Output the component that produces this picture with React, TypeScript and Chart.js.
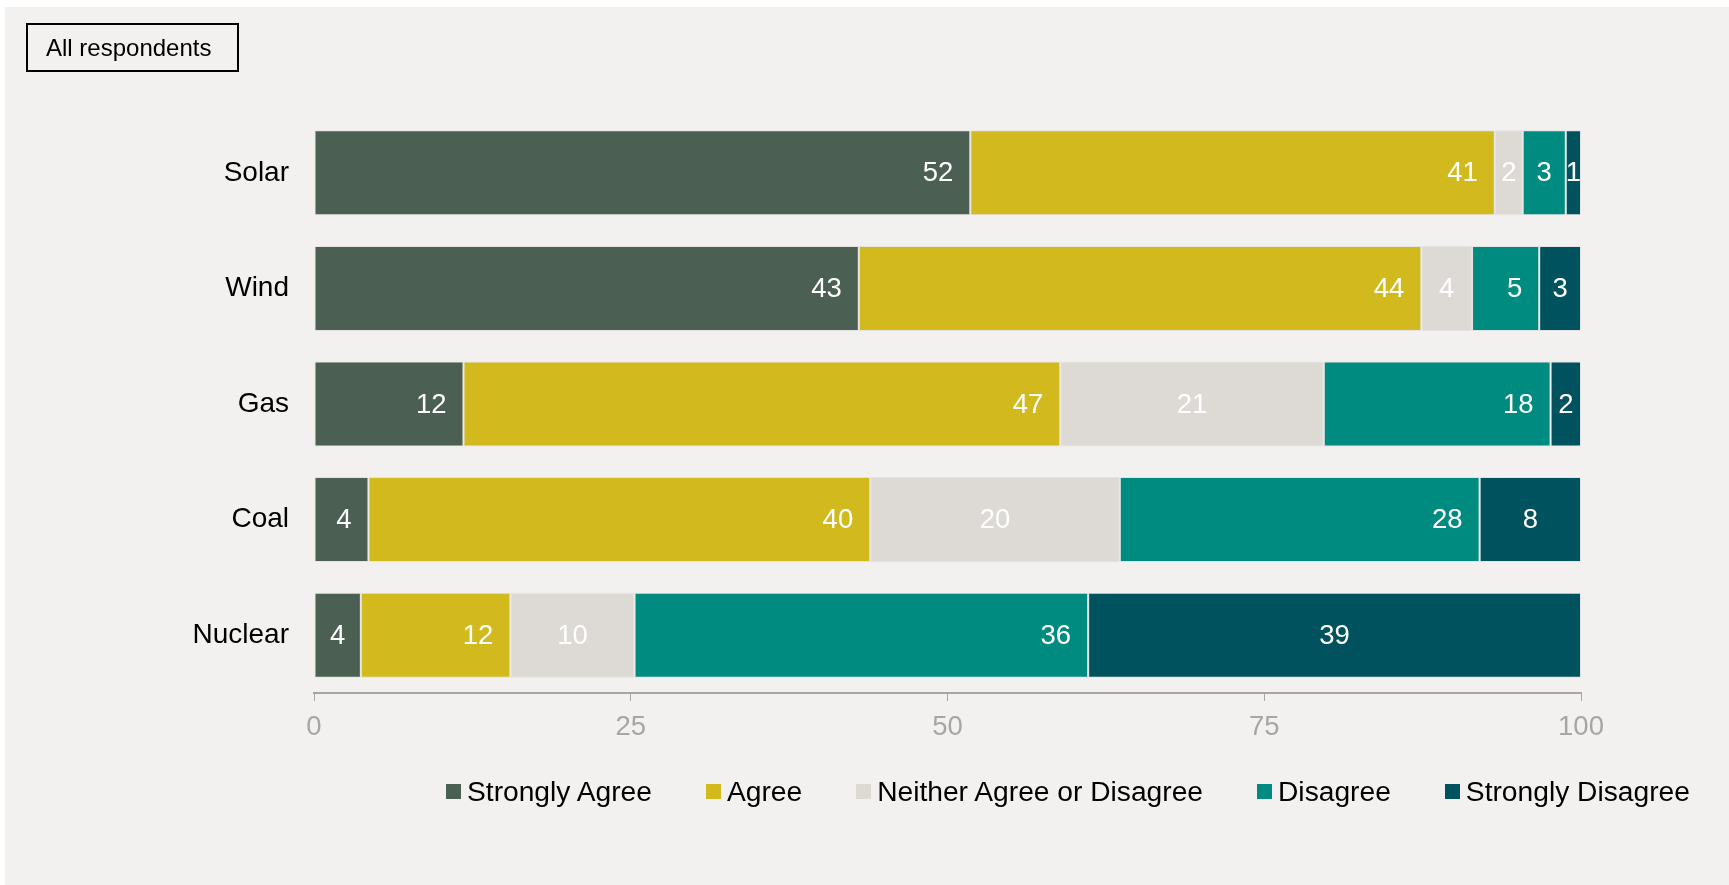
import React, { useEffect, useRef } from "react";
import { Chart, registerables } from "chart.js";

Chart.register(...registerables);

const categories = ["Solar", "Wind", "Gas", "Coal", "Nuclear"];
const seriesNames = [
  "Strongly Agree",
  "Agree",
  "Neither Agree or Disagree",
  "Disagree",
  "Strongly Disagree",
];
const stronglyAgree = [51.8, 43.0, 11.8, 4.3, 3.7];
const agree = [41.4, 44.4, 47.1, 39.6, 11.8];
const neither = [2.2, 4.0, 20.8, 19.7, 9.8];
const disagree = [3.4, 5.3, 17.9, 28.4, 35.8];
const stronglyDisagree = [1.2, 3.3, 2.4, 8.0, 38.9];
const colors = ["#4b6052", "#d1b91e", "#ddd9d5", "#008b80", "#00525e"];
const xTicks = [0, 25, 50, 75, 100];

const FONT = "'Liberation Sans', Arial, Helvetica, sans-serif";
const CENTERED = [false, false, true, false, true];

const labelPlugin = {
  id: "segLabels",
  afterDatasetsDraw(chart: any) {
    const ctx = chart.ctx;
    ctx.save();
    ctx.font = `27.5px ${FONT}`;
    ctx.fillStyle = "#ffffff";
    ctx.textBaseline = "middle";
    chart.data.datasets.forEach((ds: any, i: number) => {
      const meta = chart.getDatasetMeta(i);
      meta.data.forEach((el: any, j: number) => {
        const v = ds.data[j];
        const txt = String(Math.round(v));
        const w = ctx.measureText(txt).width;
        const start = Math.min(el.base, el.x);
        const end = Math.max(el.base, el.x);
        const center = (start + end) / 2;
        let cx = center;
        if (!CENTERED[i]) {
          const endPos = end - 17 - w / 2;
          cx = Math.max(center, endPos);
        }
        ctx.textAlign = "center";
        ctx.fillText(txt, cx, el.y + 1);
      });
    });
    ctx.restore();
  },
};

export default function App() {
  const ref = useRef<HTMLCanvasElement | null>(null);
  useEffect(() => {
    if (!ref.current) return;
    const series = [stronglyAgree, agree, neither, disagree, stronglyDisagree];
    const chart = new Chart(ref.current, {
      type: "bar",
      data: {
        labels: categories,
        datasets: series.map((d, i) => ({
          label: seriesNames[i],
          data: d,
          backgroundColor: colors[i],
          borderColor: "rgba(200,200,200,0.35)",
          borderWidth: 1,
          borderSkipped: false,
          barPercentage: 0.735,
          categoryPercentage: 1,
        })),
      },
      options: {
        indexAxis: "y",
        responsive: false,
        animation: false,
        layout: { padding: { left: 0, right: 148, top: 108, bottom: 132 } },
        plugins: {
          legend: { display: false },
          tooltip: { enabled: false },
        },
        scales: {
          x: {
            stacked: true,
            min: 0,
            max: 100,
            afterBuildTicks: (scale: any) => {
              scale.ticks = xTicks.map((v) => ({ value: v }));
            },
            afterFit: (scale: any) => {
              scale.height = 60;
            },
            grid: {
              display: true,
              drawOnChartArea: false,
              drawTicks: true,
              tickLength: 8,
              color: "#a6a6a6",
              lineWidth: 1,
            },
            border: { display: true, color: "#a6a6a6", width: 2 },
            ticks: {
              color: "#a6a6a6",
              font: { family: FONT, size: 27.5 },
              padding: 10,
              maxRotation: 0,
            },
          },
          y: {
            stacked: true,
            afterFit: (scale: any) => {
              scale.width = 309;
            },
            grid: { display: false },
            border: { display: false },
            ticks: {
              color: "#000000",
              font: { family: FONT, size: 28 },
              padding: 17,
            },
          },
        },
      },
      plugins: [labelPlugin],
    });
    return () => chart.destroy();
  }, []);

  return (
    <div
      style={{
        position: "fixed",
        left: 5,
        top: 7,
        width: 1724,
        height: 878,
        background: "#f2f1ef",
        fontFamily: FONT,
      }}
    >
      <canvas
        ref={ref}
        width={1724}
        height={878}
        style={{ position: "absolute", left: 0, top: 0, width: 1724, height: 878 }}
      />
      <div
        style={{
          position: "absolute",
          left: 21,
          top: 16,
          width: 213,
          height: 49,
          boxSizing: "border-box",
          border: "2px solid #000",
          fontSize: 24,
          lineHeight: "45px",
          paddingLeft: 18,
          color: "#000",
          whiteSpace: "nowrap",
        }}
      >
        All respondents
      </div>
      <div
        style={{
          position: "absolute",
          left: 441,
          top: 770,
          height: 28,
          display: "flex",
          alignItems: "center",
          gap: 54,
        }}
      >
        {seriesNames.map((n, i) => (
          <div key={n} style={{ display: "flex", alignItems: "center" }}>
            <div
              style={{
                width: 15,
                height: 15,
                background: colors[i],
                marginRight: 6,
                flex: "none",
              }}
            />
            <span style={{ fontSize: 28.2, lineHeight: 1, color: "#000", whiteSpace: "nowrap" }}>
              {n}
            </span>
          </div>
        ))}
      </div>
    </div>
  );
}
